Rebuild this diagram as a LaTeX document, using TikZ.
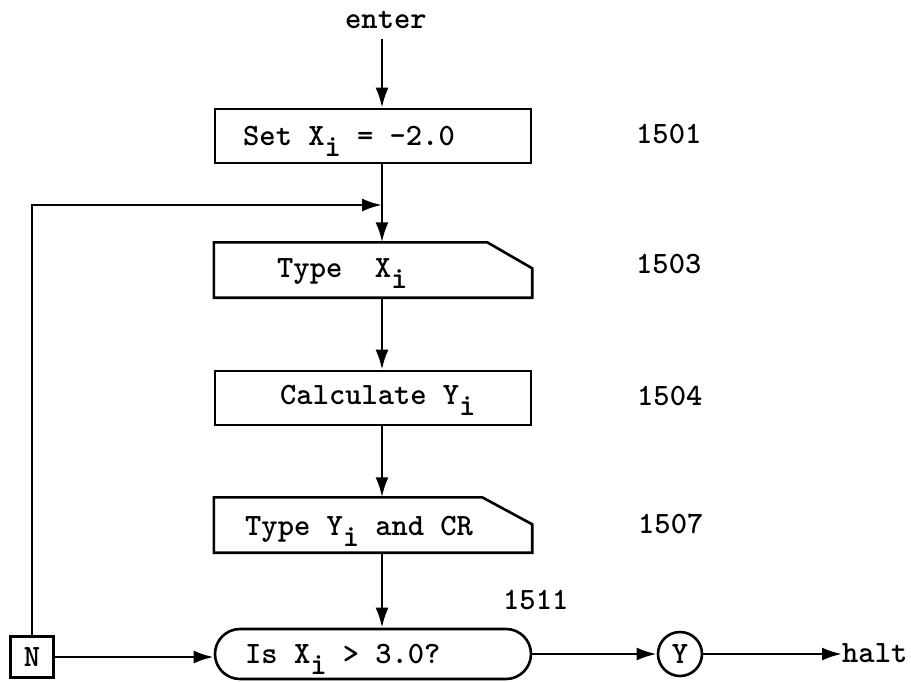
\documentclass[tikz,border=0pt]{standalone}
\usepackage{fontspec}
\usetikzlibrary{arrows.meta,shapes.misc}
\newcommand{\subi}{\raisebox{-0.38em}{i}}

\begin{document}
\begin{tikzpicture}[x=1pt, y=-1pt,
  font=\ttfamily\bfseries\fontsize{31}{34}\selectfont,
  procbox/.style={rectangle, draw, line width=2.6pt, minimum width=316pt, minimum height=54pt, inner sep=0pt},
  cutbox/.style={rectangle, minimum width=318pt, minimum height=55pt, inner sep=0pt},
  termbox/.style={rounded rectangle, draw, line width=2.6pt, minimum width=316pt, minimum height=50pt, inner sep=0pt},
  tagbox/.style={rectangle, draw, line width=2.6pt, minimum width=43pt, minimum height=41pt, inner sep=0pt},
  yesnode/.style={circle, draw, line width=2.6pt, minimum size=44pt, inner sep=0pt},
  arrow/.style={-{Latex[length=20pt,width=13pt]}, line width=2.6pt},
  cutline/.style={line width=2.6pt, line join=miter},
  spine/.style={xshift=9pt}
]
  \useasboundingbox (0,0) rectangle (911,681);

  % boxes of the main column
  \node[procbox] (set)   at (373,136) {};
  \node[cutbox]  (typex) at (373,270) {};
  \node[procbox] (calc)  at (373,398) {};
  \node[cutbox]  (typey) at (373,525) {};
  \node[termbox] (test)  at (373,654) {};

  \draw[cutline] (typex.south west) -- (typex.north west) -- ([xshift=-45pt]typex.north east)
    -- ([yshift=-26pt]typex.north east) -- (typex.south east) -- cycle;
  \draw[cutline] (typey.south west) -- (typey.north west) -- ([xshift=-50pt]typey.north east)
    -- ([yshift=-27pt]typey.north east) -- (typey.south east) -- cycle;

  % texts inside the boxes
  \node[anchor=base west, inner sep=0pt] (settxt)   at (243,145) {Set X\subi{} = -2.0};
  \node[anchor=base west, inner sep=0pt] (typextxt) at (277,277) {Type\ \ X\subi};
  \node[anchor=base west, inner sep=0pt] (calctxt)  at (280,404) {Calculate Y\subi};
  \node[anchor=base west, inner sep=0pt] (typeytxt) at (245,535) {Type Y\subi{} and CR};
  \node[anchor=base west, inner sep=0pt] (testtxt)  at (245,663) {Is X\subi{} > 3.0?};

  % statement numbers
  \node[anchor=base west, inner sep=0pt] (n1501) at (636,143) {1501};
  \node[anchor=base west, inner sep=0pt] (n1503) at (636,273) {1503};
  \node[anchor=base west, inner sep=0pt] (n1504) at (637,405) {1504};
  \node[anchor=base west, inner sep=0pt] (n1507) at (638,533) {1507};
  \node[anchor=base west, inner sep=0pt] (n1511) at (503,609) {1511};

  % entry, branches and exit
  \node[anchor=base west, inner sep=0pt] (enter) at (345,28) {enter};
  \node[tagbox]  (no)  at (32,657) {N};
  \node[yesnode] (yes) at (680,654) {Y};
  \node[anchor=base west, inner sep=0pt] (halt) at (842,662) {halt};
  \coordinate (top)  at ([spine]set.north);
  \coordinate (join) at (382,205);

  \draw[arrow] ([yshift=-11pt]top |- enter.south) -- (top);
  \draw[arrow] ([spine]set.south) -- ([spine]typex.north);
  \draw[arrow] ([spine]typex.south) -- ([spine]calc.north);
  \draw[arrow] ([spine]calc.south) -- ([spine]typey.north);
  \draw[arrow] ([spine]typey.south) -- ([spine]test.north);
  \draw[arrow] (no.north) |- (join);
  \draw[arrow] (no.east) -- (no.east -| test.west);
  \draw[arrow] (test.east) -- (yes.west);
  \draw[arrow] (yes.east) -- (yes.east -| halt.west);
\end{tikzpicture}
\end{document}
